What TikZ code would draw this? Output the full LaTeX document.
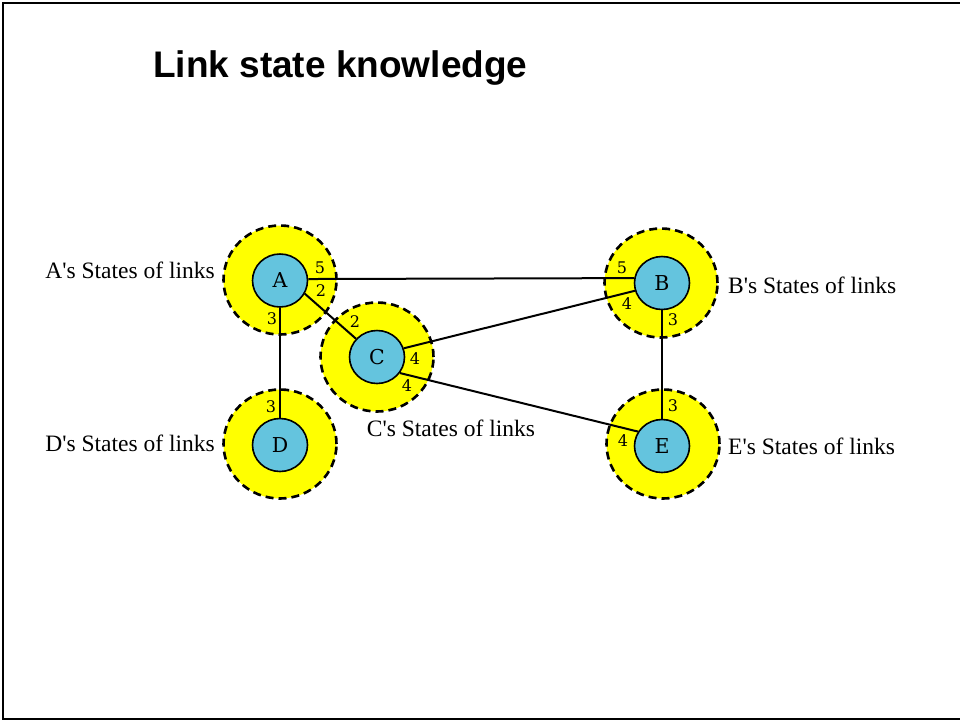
\documentclass[tikz,border=0pt]{standalone}
\usepackage{fontspec}
\setmainfont{Liberation Serif}[Ligatures=TeXOff]
\newfontfamily\nodefont{DejaVu Serif}
\newfontfamily\headfont{Liberation Sans}
\usetikzlibrary{shapes.geometric}
\definecolor{routerblue}{RGB}{100,196,222}
\definecolor{stateyellow}{RGB}{255,255,0}
\tikzset{
  router/.style={ellipse, draw=black, line width=1.6pt, fill=routerblue,
    minimum width=55pt, minimum height=53pt, inner sep=0pt,
    font=\nodefont\fontsize{20.5}{22}\selectfont},
  knowledge/.style={ellipse, draw=black, line width=2.6pt, dash pattern=on 8pt off 5pt,
    fill=stateyellow, minimum width=113pt, minimum height=109pt, inner sep=0pt},
  link/.style={line width=2pt, draw=black},
  cost/.style={inner sep=0pt, font=\nodefont\fontsize{16}{17}\selectfont},
  caption/.style={inner sep=0pt, font=\fontsize{23.5}{26}\selectfont}
}
\begin{document}
\begin{tikzpicture}[x=1pt,y=-1pt]
\useasboundingbox (0,0) rectangle (960,721);
% page frame
\draw[line width=2pt] (962,2.5) -- (2.5,2.5) -- (2.5,718.5) -- (962,718.5);
% heading
\node[anchor=base west, inner sep=0pt, font=\headfont\bfseries\fontsize{37}{40}\selectfont] (title) at (153,77) {Link state knowledge};
% knowledge areas
\node[knowledge] (Ak) at (280,280) {};
\node[knowledge] (Bk) at (661,283) {};
\node[knowledge] (Ck) at (377,357) {};
\node[knowledge] (Dk) at (280,444) {};
\node[knowledge] (Ek) at (663,444) {};
% routers
\node[router] (A) at (280,280.5) {A};
\node[router] (B) at (662,283) {B};
\node[router] (C) at (377,357) {C};
\node[router] (D) at (280,445) {D};
\node[router] (E) at (662,446) {E};
% links
\draw[link] (A.3) -- (B.170);
\draw[link] (A.-28) -- (C.139);
\draw[link] (A) -- (D);
\draw[link] (C.18) -- (B.196);
\draw[link] (C.-35) -- (E.149);
\draw[link] (B) -- (E);
% link costs
\node[cost] (cAB) at (320,268) {5};
\node[cost] (cAC) at (321,291) {2};
\node[cost] (cAD) at (272,319) {3};
\node[cost] (cCA) at (355,322) {2};
\node[cost] (cCB) at (415,359) {4};
\node[cost] (cCE) at (407,386) {4};
\node[cost] (cDA) at (271,407) {3};
\node[cost] (cBA) at (622,268) {5};
\node[cost] (cBC) at (627,304) {4};
\node[cost] (cBE) at (673,320) {3};
\node[cost] (cEB) at (673,406) {3};
\node[cost] (cEC) at (623,441) {4};
% captions
\node[caption, anchor=base east] (Acap) at (215,278) {A's States of links};
\node[caption, anchor=base west] (Bcap) at (728,293) {B's States of links};
\node[caption, anchor=base] (Ccap) at (451,436) {C's States of links};
\node[caption, anchor=base east] (Dcap) at (215,451) {D's States of links};
\node[caption, anchor=base west] (Ecap) at (728,454) {E's States of links};
\end{tikzpicture}
\end{document}
